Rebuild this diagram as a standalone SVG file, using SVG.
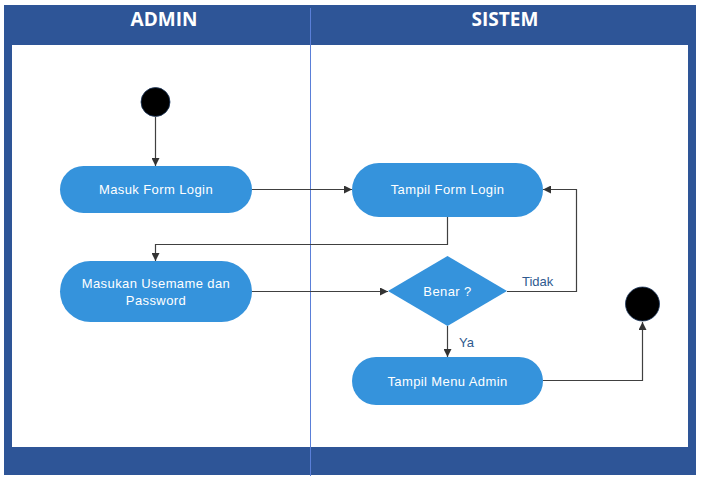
<svg xmlns="http://www.w3.org/2000/svg" width="701" height="482" viewBox="0 0 701 482">
<style>
.node{fill:#3593dc;}
.nt{font-family:"Liberation Sans",Arial,sans-serif;font-size:13px;letter-spacing:0.4px;fill:#ffffff;text-anchor:middle;}
.hd{font-family:"Open Sans","Liberation Sans",sans-serif;font-size:19px;font-weight:bold;fill:#ffffff;text-anchor:middle;}
.ln{fill:none;stroke:#404040;stroke-width:1.2;}
.lbl{font-family:"Liberation Sans",Arial,sans-serif;font-size:13px;fill:#2f5a8f;}
</style>
<defs>
<marker id="ah" viewBox="0 0 10 10" refX="10" refY="5" markerWidth="8" markerHeight="8" markerUnits="userSpaceOnUse" orient="auto">
<path d="M0,0 L10,5 L0,10 z" fill="#333333"/>
</marker>
</defs>
<rect width="701" height="482" fill="#ffffff"/>
<g id="frame">
<rect x="4" y="5" width="692" height="470" fill="#2e5597"/>
<rect x="12" y="45" width="676" height="402" fill="#ffffff"/>
<line x1="310.5" y1="8" x2="310.5" y2="476" stroke="#5a7fd8" stroke-width="1"/>
<text class="hd" x="164" y="26">ADMIN</text>
<text class="hd" x="505" y="26">SISTEM</text>
</g>
<g id="connectors">
<path class="ln" d="M155.5,117 L155.5,166" marker-end="url(#ah)"/>
<path class="ln" d="M252,189.5 L352,189.5" marker-end="url(#ah)"/>
<path class="ln" d="M447.5,217 L447.5,244.5 L155.5,244.5 L155.5,261" marker-end="url(#ah)"/>
<path class="ln" d="M252,291.5 L388,291.5" marker-end="url(#ah)"/>
<path class="ln" d="M507,291.5 L576.5,291.5 L576.5,189.5 L543,189.5" marker-end="url(#ah)"/>
<path class="ln" d="M447.5,326 L447.5,357" marker-end="url(#ah)"/>
<path class="ln" d="M543,380.5 L642.5,380.5 L642.5,322" marker-end="url(#ah)"/>
<text class="lbl" x="522" y="286">Tidak</text>
<text class="lbl" x="459" y="347">Ya</text>
</g>
<g id="start">
<circle cx="155.5" cy="102" r="14.5" fill="#000000" stroke="#1f3a60" stroke-width="0.8"/>
</g>
<g id="masuk-form-login">
<rect class="node" x="60" y="166" width="192" height="47" rx="23.5"/>
<text class="nt" x="156" y="194">Masuk Form Login</text>
</g>
<g id="masukan-username">
<rect class="node" x="60" y="261" width="192" height="61" rx="30.5"/>
<text class="nt" x="156" y="288">Masukan Usemame dan</text>
<text class="nt" x="156" y="305">Password</text>
</g>
<g id="tampil-form-login">
<rect class="node" x="352" y="163" width="191" height="54" rx="27"/>
<text class="nt" x="447.5" y="194">Tampil Form Login</text>
</g>
<g id="benar">
<polygon class="node" points="447.5,256 507,291 447.5,326 388,291"/>
<text class="nt" x="447.5" y="296">Benar ?</text>
</g>
<g id="tampil-menu-admin">
<rect class="node" x="352" y="357" width="191" height="48" rx="24"/>
<text class="nt" x="447.5" y="386">Tampil Menu Admin</text>
</g>
<g id="end">
<circle cx="642.5" cy="304" r="17" fill="#000000" stroke="#1f3a60" stroke-width="0.8"/>
</g>
</svg>
